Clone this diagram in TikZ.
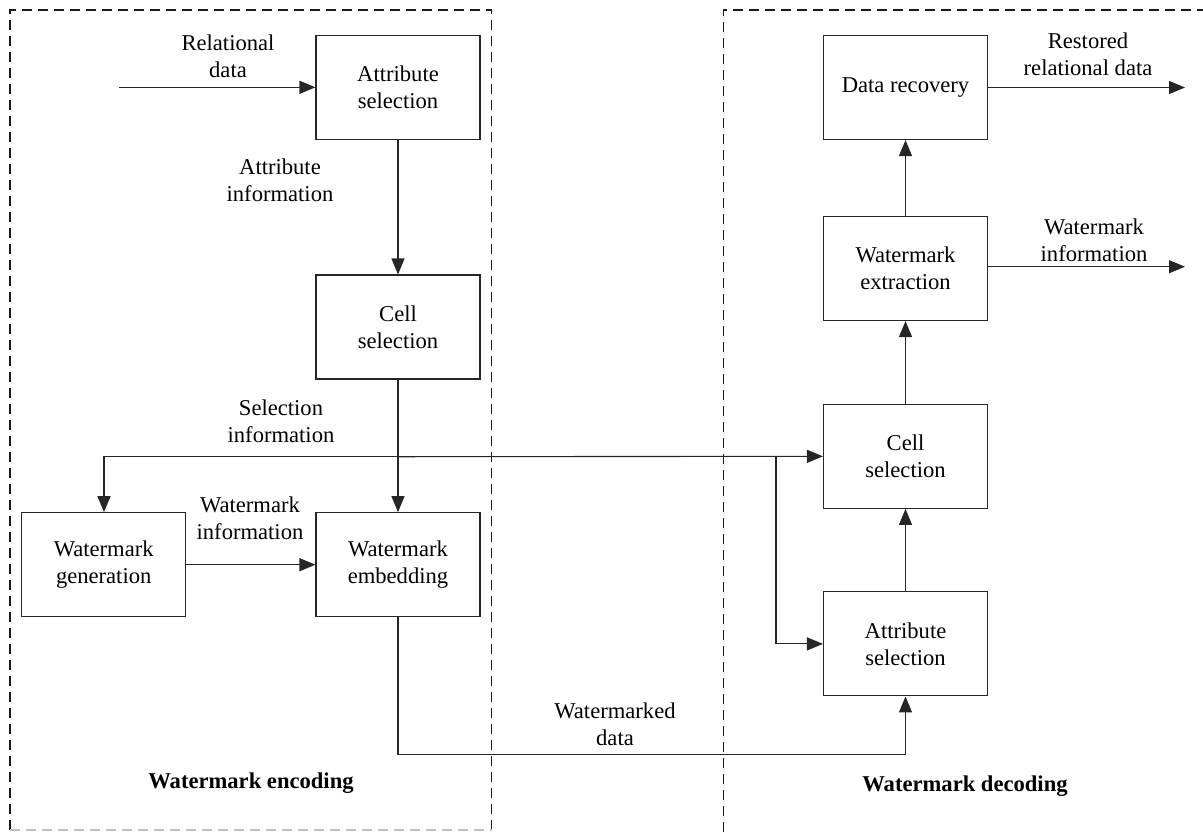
\documentclass[tikz,border=0pt]{standalone}
\usepackage{fontspec}
\setmainfont{Liberation Serif}
\usetikzlibrary{arrows.meta}
\begin{document}
\begin{tikzpicture}[x=0.5pt,y=-0.5pt,
  font=\fontsize{11.3}{13.5}\selectfont,
  blk/.style={draw=black!85,line width=0.55pt,minimum width=82pt,minimum height=52pt,align=center,inner sep=0pt},
  lbl/.style={align=center,inner sep=0pt},
  conn/.style={draw=black!85,line width=0.55pt},
  arr/.style={conn,-{Triangle[length=8pt,width=6.5pt]}},
  frame/.style={draw=black!90,line width=0.55pt,dash pattern=on 5pt off 3pt},
  title/.style={font=\fontsize{11.3}{13.5}\selectfont\bfseries,inner sep=0pt}]
\useasboundingbox (0,0) rectangle (1203,832);
% frames
\draw[frame] (491.7,830) -- (491.7,10) -- (10,10) -- (10,830);
\draw[frame,draw=black!25] (10,830) -- (491.7,830);
\draw[frame] (723.3,832) -- (723.3,10) -- (1203,10);
% blocks
\node[blk] (attL) at (398,87.3) {Attribute\\selection};
\node[blk] (cellL) at (398,327) {Cell\\selection};
\node[blk] (gen) at (103.7,564.7) {Watermark\\generation};
\node[blk] (emb) at (398,564.7) {Watermark\\embedding};
\node[blk] (recov) at (905.5,87.5) {Data recovery};
\node[blk] (extr) at (905.5,268.5) {Watermark\\extraction};
\node[blk] (cellR) at (905.5,456.3) {Cell\\selection};
\node[blk] (attR) at (905.5,643.9) {Attribute\\selection};
% coordinates
\coordinate (in) at (119,87.3);
\coordinate (J) at (398,456.7);
\coordinate (JL) at (104,456.7);
\coordinate (JR) at (776,456.7);
\coordinate (B1) at (398,754.3);
\coordinate (out1) at (1185,87.5);
\coordinate (out2) at (1185,266.7);
% connectors
\draw[arr] (in) -- (attL.west);
\draw[arr] (attL.south) -- (cellL.north);
\draw[arr] (cellL.south) -- (emb.north);
\draw[arr] (J) -- (JL) -- (gen.north -| JL);
\draw[arr] (J) -- (cellR.west);
\draw[arr] (JR) |- (attR.west);
\draw[arr] (gen.east) -- (emb.west);
\draw[arr] (emb.south) -- (B1) -| (attR.south);
\draw[arr] (attR.north) -- (cellR.south);
\draw[arr] (cellR.north) -- (extr.south);
\draw[arr] (extr.north) -- (recov.south);
\draw[arr] (recov.east) -- (out1);
\draw[arr] (extr.east |- out2) -- (out2);
% labels
\node[lbl] (l1) at (228,56) {Relational\\data};
\node[lbl] (l2) at (280,180) {Attribute\\information};
\node[lbl] (l3) at (281,421) {Selection\\information};
\node[lbl] (l4) at (250,518) {Watermark\\information};
\node[lbl] (l5) at (615,724) {Watermarked\\data};
\node[lbl] (l6) at (1088,54) {Restored\\relational data};
\node[lbl] (l7) at (1094,240) {Watermark\\information};
\node[title] (t1) at (251,783) {Watermark encoding};
\node[title] (t2) at (965,786) {Watermark decoding};
\end{tikzpicture}
\end{document}
